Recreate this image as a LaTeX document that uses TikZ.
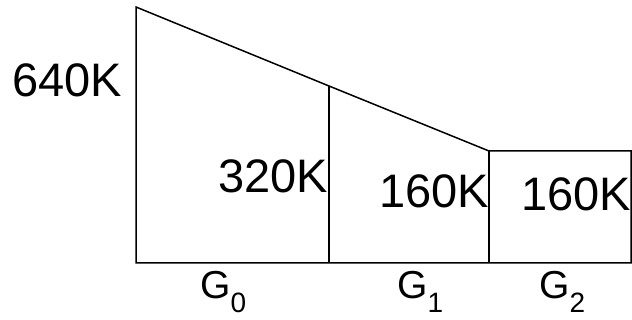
\documentclass[tikz,border=0pt]{standalone}
\usepackage{fontspec}
\setmainfont{Liberation Sans}
\usetikzlibrary{positioning}
\tikzset{
  edge/.style={line width=1.5pt,black},
  sizelbl/.style={font=\fontsize{47}{50}\selectfont,inner sep=0pt,anchor=base west},
  genlbl/.style={font=\fontsize{39}{42}\selectfont,inner sep=0pt,anchor=base west}
}
\newcommand{\gen}[1]{G\raisebox{-14pt}{\fontsize{28}{30}\selectfont #1}}

\begin{document}
\begin{tikzpicture}[x=1pt,y=-1pt]
\useasboundingbox (0,0) rectangle (632,320);
% outline of the generations
\coordinate (top0) at (136,7);
\coordinate (top1) at (329,86);
\coordinate (top2) at (489,151);
\coordinate (top3) at (631,151);
\coordinate (bot0) at (136,263);
\coordinate (bot1) at (329,263);
\coordinate (bot2) at (489,263);
\coordinate (bot3) at (631,263);
\draw[edge] (top0) -- (bot0) -- (bot3) -- (top3) -- (top2) -- (top1) -- cycle;
\draw[edge] (top1) -- (bot1);
\draw[edge] (top2) -- (bot2);
% sizes
\node[sizelbl] (s640) at (12,97) {640K};
\node[sizelbl] (s320) at (218,193) {320K};
\node[sizelbl] (s160a) at (379,208) {160K};
\node[sizelbl] (s160b) at (521,211) {160K};
% generations
\node[genlbl] (g0) at (200,299) {\gen{0}};
\node[genlbl] (g1) at (397,299) {\gen{1}};
\node[genlbl] (g2) at (539,299) {\gen{2}};
\end{tikzpicture}
\end{document}
